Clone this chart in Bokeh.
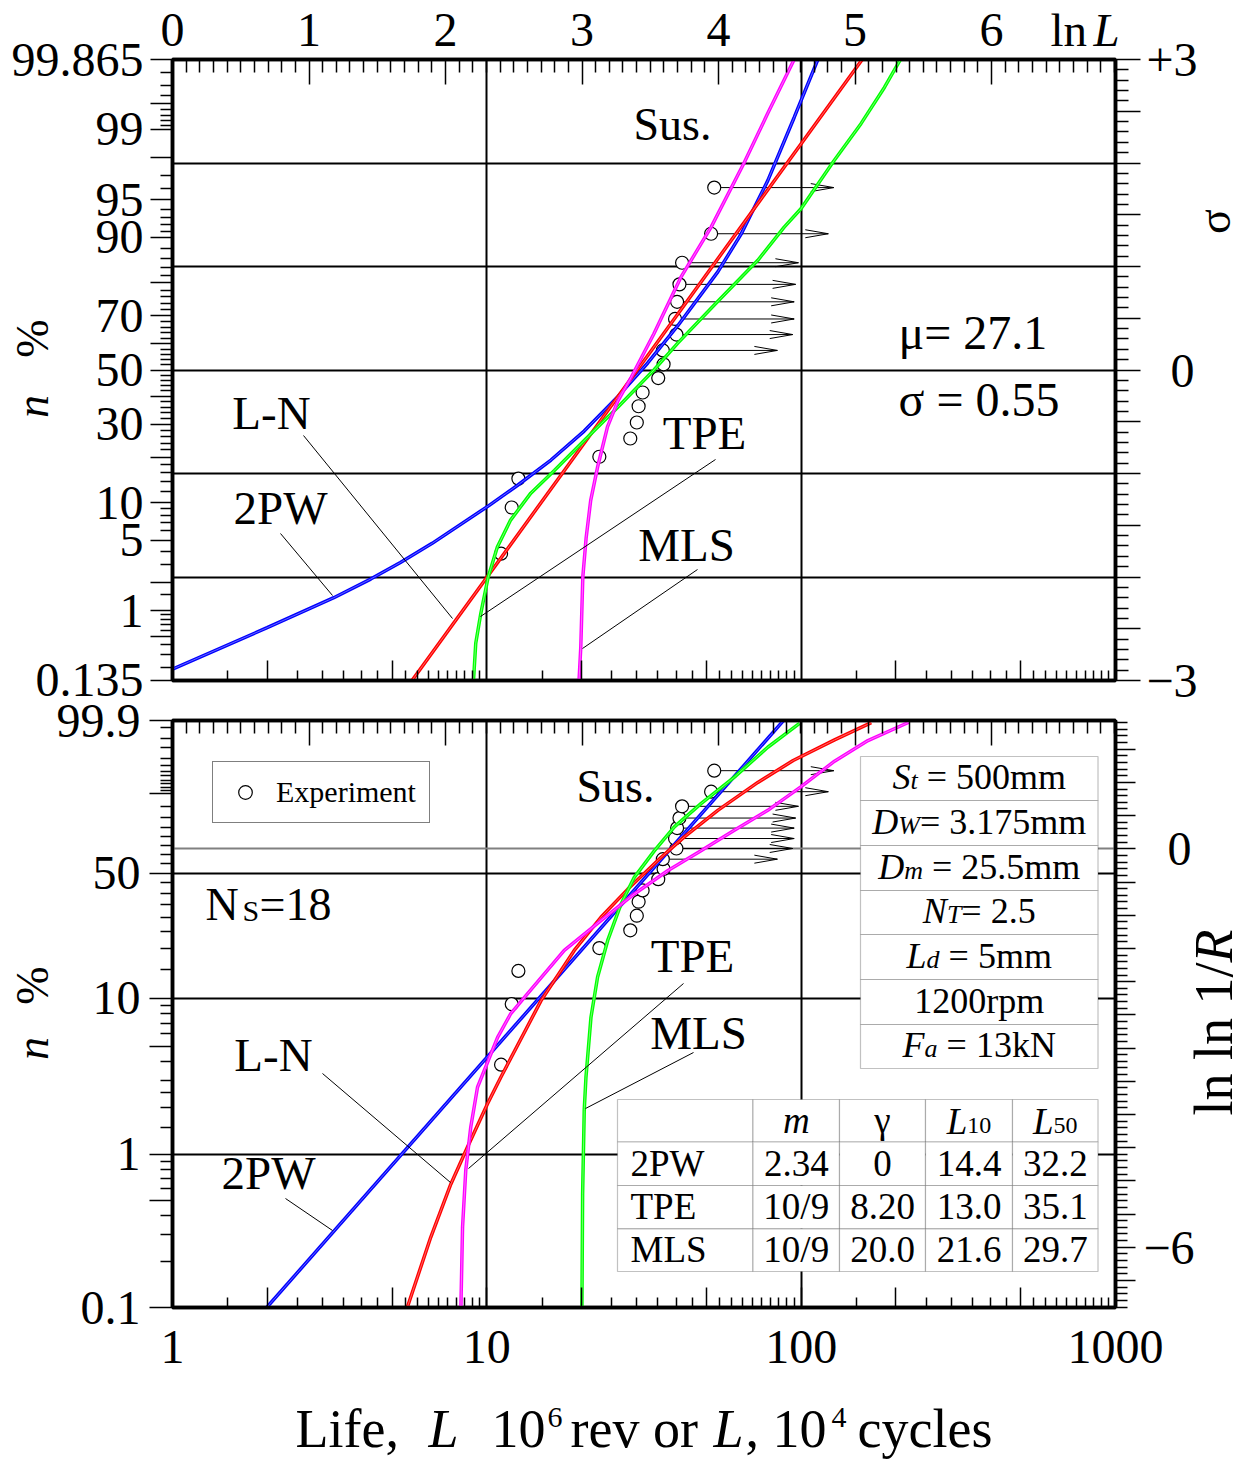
import math
from statistics import NormalDist
from bokeh.plotting import figure
from bokeh.models import (Range1d, LinearScale, LinearAxis, FixedTicker, Label, BoxAnnotation,
                          Grid, Legend, LegendItem, CustomJSTickFormatter, InlineStyleSheet)
from bokeh.embed import file_html
from bokeh.resources import INLINE

FONT = "Liberation Serif"

# ---------------- data ----------------
# experiment: failed specimens, life L (10^6 rev) and plotting position n (%)
fail_L = [11.1, 12.0, 12.6, 22.8, 28.6, 30.0, 30.4, 31.3, 35.1, 36.5]
fail_n = [3.8, 9.2, 14.7, 20.1, 25.4, 30.6, 36.3, 41.4, 46.9, 52.2]
# suspended specimens ("Sus.")
sus_L = [36.3, 40.1, 39.7, 40.3, 41.0, 41.8, 51.7, 52.9]
sus_n = [57.5, 63.4, 68.9, 74.5, 79.6, 85.0, 90.6, 96.1]
sus_arrow_L = [84, 94, 95, 95, 96, 98, 122, 127]

# upper panel: normal probability paper, ordinate in sigma units
up_2pw_L = [1.0, 2.0, 3.26, 4.27, 5.31, 6.7, 10.15, 12.5, 16.0, 20.4, 26.1, 32.5, 40.5, 54.3, 64.4, 78.3, 95.0, 113.0]
up_2pw_s = [-2.89, -2.49, -2.20, -2.02, -1.86, -1.675, -1.31, -1.116, -0.87, -0.59, -0.257, 0.068, 0.428, 0.948, 1.313, 1.83, 2.44, 3.0]
up_ln_L = [5.78, 30.1, 156.4]
up_ln_s = [-3.0, 0.0, 3.0]
up_tpe_L = [9.07, 9.22, 9.57, 10.1, 10.8, 11.9, 13.8, 16.4, 20.9, 26.1, 34.0, 40.5, 53.0, 72.8, 88.3, 100, 127, 155, 184, 207]
up_tpe_s = [-3.0, -2.64, -2.35, -2.00, -1.71, -1.45, -1.19, -0.97, -0.65, -0.36, 0.0, 0.26, 0.63, 1.06, 1.38, 1.56, 2.02, 2.38, 2.73, 3.0]
up_mls_L = [19.65, 19.9, 20.2, 20.7, 21.4, 22.5, 24.2, 26.1, 28.8, 34.0, 41.5, 51.7, 65.8, 78.3, 95.0]
up_mls_s = [-3.0, -2.68, -2.00, -1.62, -1.26, -0.94, -0.55, -0.30, -0.07, 0.35, 0.90, 1.38, 2.00, 2.48, 3.0]

# lower panel: Weibull probability paper, ordinate ln ln 1/R
lo_2pw_L = [2.0, 87.8]
lo_2pw_w = [-6.90, 1.93]
lo_ln_L = [5.59, 6.63, 7.68, 8.68, 10.05, 11.08, 14.86, 18.97, 23.07, 28.05, 35.8, 42.5, 54.3, 72.8, 94.3, 127.7, 167.1]
lo_ln_w = [-6.90, -5.85, -5.05, -4.49, -3.84, -3.44, -2.29, -1.53, -1.03, -0.61, -0.13, 0.18, 0.58, 1.00, 1.33, 1.64, 1.90]
lo_tpe_L = [8.27, 8.37, 8.57, 8.89, 9.34, 10.82, 11.92, 13.48, 17.63, 23.07, 29.45, 37.6, 48.0, 61.3, 78.3, 99.5, 127.7, 163.1, 221]
lo_tpe_w = [-6.90, -5.70, -4.84, -4.19, -3.59, -2.84, -2.48, -2.18, -1.53, -1.08, -0.68, -0.33, -0.03, 0.28, 0.58, 0.93, 1.32, 1.63, 1.91]
lo_mls_L = [20.07, 20.17, 20.41, 20.67, 21.44, 22.51, 24.24, 26.73, 29.45, 34.1, 39.5, 48.0, 61.3, 78.3, 98.8]
lo_mls_w = [-6.90, -5.20, -3.94, -3.44, -2.54, -1.93, -1.38, -0.83, -0.43, -0.03, 0.33, 0.68, 1.08, 1.53, 1.89]

# annotation texts
params = [("S", "t", "= 500mm"), ("D", "W", "= 3.175mm"), ("D", "m", "= 25.5mm"),
          ("N", "T", "= 2.5"), ("L", "d", "= 5mm"), ("", "", "1200rpm"), ("F", "a", "= 13kN")]
tab_rows = ["2PW", "TPE", "MLS"]
tab_m = ["2.34", "10/9", "10/9"]
tab_gamma = ["0", "8.20", "20.0"]
tab_L10 = ["14.4", "13.0", "21.6"]
tab_L50 = ["32.2", "35.1", "29.7"]

# ---------------- scales / helpers ----------------
nd = NormalDist()
def zsig(pct):
    return nd.inv_cdf(pct / 100.0)
def wlnln(pct):
    return math.log(-math.log(1.0 - pct / 100.0))

W_TOP, W_BOT = wlnln(99.9), wlnln(0.1)
DEC = 943 / 3.0
def xd(px):            # page pixel -> life value
    return 10 ** ((px - 172) / DEC)
def yt(py):            # page pixel -> sigma (upper panel)
    return 3 - (py - 59) * 6.0 / 621
def yb(py):            # page pixel -> ln ln 1/R (lower panel)
    return W_TOP - (py - 720) * (W_TOP - W_BOT) / 587
def ypage(py):         # overlay: page pixel
    return py
def xpage(px):
    return px

MID = 0.3375   # baseline -> box middle, in em
TICK_FS = 48

REG = {' ': .25, '.': .25, ',': .25, '=': .564, '/': .278, '-': .333, '%': .833, 'm': .778, 'r': .333,
       'p': .5, 'k': .5, 'N': .722, 'P': .556, 'W': .944, 'T': .611, 'E': .611, 'L': .611, 'S': .556,
       'M': .889, 'l': .278, 'n': .5, 'e': .444, 'v': .5, 'o': .5, 'c': .444, 'y': .5, 's': .389,
       'i': .278, 'f': .333, 'a': .444, 'd': .5, 't': .278, 'u': .5}
IT = {'S': .5, 't': .278, 'D': .722, 'W': .833, 'm': .722, 'N': .667, 'T': .556, 'L': .556, 'd': .5,
      'F': .611, 'a': .5, 'R': .611, 'n': .5}

def twidth(t, size, it=False):
    tb = IT if it else REG
    return sum(tb.get(c, REG.get(c, 0.5)) for c in t) * size

def lab(p, xc, yc, px, py, text, size, style="normal", align="left"):
    """text whose alphabetic baseline sits at page pixel py"""
    p.add_layout(Label(x=xc(px), y=yc(py - MID * size), text=text, text_font=FONT,
                       text_font_size=f"{size}px", text_font_style=style, text_align=align,
                       text_baseline="middle", text_color="black"))

def vlab(p, px, py, text, size, style="normal", align="center"):
    """rotated (bottom-to-top) text, baseline at page x px, on the overlay"""
    p.add_layout(Label(x=px - MID * size, y=py, text=text, text_font=FONT, text_font_size=f"{size}px",
                       text_font_style=style, text_align=align, text_baseline="middle",
                       angle=math.pi / 2, text_color="black"))

def rich(p, yc, pieces, px, py, align="left"):
    total = sum(twidth(t, s, it) for t, s, it in pieces)
    x = px - total / 2.0 if align == "center" else px
    for t, s, it in pieces:
        core = t.strip()
        lead = len(t) - len(t.lstrip())
        trail = (len(t) - len(t.rstrip())) if core else 0
        x += twidth(" " * lead, s, it)
        if core:
            lab(p, xd, yc, x, py, core, s, "italic" if it else "normal")
        x += twidth(core, s, it) + twidth(" " * trail, s, it)

def fmt(ticks, labels):
    return CustomJSTickFormatter(args=dict(t=list(ticks), l=list(labels)), code="""
        for (let i = 0; i < t.length; i++) {
            if (Math.abs(tick - t[i]) < 1e-6 * (1 + Math.abs(t[i]))) return l[i];
        }
        return '';""")

def style_axis(ax, tin=0, tout=0, min_in=0, min_out=0, standoff=0, fs=TICK_FS):
    ax.axis_line_color = "black"
    ax.axis_line_width = 3.5
    ax.major_tick_line_color = "black"
    ax.major_tick_line_width = 1.5
    ax.minor_tick_line_color = "black"
    ax.minor_tick_line_width = 1.5
    ax.major_tick_in = tin
    ax.major_tick_out = tout
    ax.minor_tick_in = min_in
    ax.minor_tick_out = min_out
    ax.major_label_standoff = standoff
    ax.major_label_text_font = FONT
    ax.major_label_text_font_size = f"{fs}px"
    ax.major_label_text_color = "black"

def place(fig, top):
    css = ":host { position: absolute !important; left: 0px !important; top: %dpx !important; }" % top
    fig.stylesheets = [InlineStyleSheet(css=css)]
    fig.styles = {"position": "absolute", "left": "0px", "top": f"{top}px"}

def curve(p, xs, ys, color, light):
    p.line(xs, ys, line_color=color, line_width=3.5)
    p.line(xs, ys, line_color=light, line_width=0.8, line_alpha=0.8)

# tick layouts (styling)
x_minor = [m * 10 ** k for k in range(3) for m in (1.5, 2.5, 3, 3.5, 4, 4.5, 5.5, 6, 6.5, 7, 7.5, 8, 8.5, 9, 9.5)]
ln_major = [0, 1, 2, 3, 4, 5, 6]
ln_minor = [k / 10 for k in range(1, 70) if k % 10]

up_major = [0.135, 0.5, 1, 2, 5, 10, 20, 30, 40, 50, 60, 70, 80, 90, 95, 98, 99, 99.5, 99.865]
up_lab = [0.135, 1, 5, 10, 30, 50, 70, 90, 95, 99, 99.865]
up_lab_txt = ["0.135", "1", "5", "10", "30", "50", "70", "90", "95", "99", "99.865"]
up_minor = [0.2, 0.3, 0.4, 0.6, 0.7, 0.8, 0.9, 1.5, 3, 4, 6, 7, 8, 9, 12, 14, 16, 18, 22, 24, 26, 28,
            32, 34, 36, 38, 42, 44, 46, 48, 52, 54, 56, 58, 62, 64, 66, 68, 72, 74, 76, 78, 82, 84, 86,
            88, 91, 92, 93, 94, 96, 97, 99.1, 99.2, 99.3, 99.4, 99.6, 99.7, 99.8]

lo_major = [0.1, 0.5, 1, 5, 10, 50, 90, 99.9]
lo_lab = [0.1, 1, 10, 50, 99.9]
lo_lab_txt = ["0.1", "1", "10", "50", "99.9"]
lo_minor = [0.2, 0.3, 0.4, 0.6, 0.7, 0.8, 0.9, 1.5, 2, 2.5, 3, 4, 6, 7, 8, 9, 15, 20, 25, 30, 35, 40,
            45, 55, 60, 65, 70, 75, 80, 85, 91, 92, 93, 94, 95, 96, 97, 98, 99, 99.5, 99.8]

COL = dict(blue=("#0000ff", "#a0a0ff"), red=("#ff0000", "#ffa0a0"),
           green=("#00ff00", "#b0ffb0"), magenta=("#ff00ff", "#ffb0ff"))

def make_fig(yrange, fh, top, bottom):
    p = figure(x_axis_type="log", x_range=Range1d(1, 1000), y_range=yrange,
               frame_width=943, frame_height=fh,
               min_border_left=172, min_border_right=126, min_border_top=top, min_border_bottom=bottom,
               toolbar_location=None, output_backend="svg",
               background_fill_color="white", border_fill_color="white")
    p.outline_line_color = "black"
    p.outline_line_width = 3.5
    p.xgrid.ticker = FixedTicker(ticks=[10, 100])
    p.xgrid.grid_line_color = "black"
    p.xgrid.grid_line_width = 2
    p.ygrid.grid_line_color = "black"
    p.ygrid.grid_line_width = 2
    p.extra_x_ranges = {"ln": Range1d(0, math.log(1000))}
    p.extra_x_scales = {"ln": LinearScale()}
    return p

def draw_arrows(p, yvals, ypx):
    dy = 4 * ypx
    back = 10 ** (23 / DEC)
    start = 10 ** (6.5 / DEC)
    p.segment(x0=[v * start for v in sus_L], y0=yvals, x1=sus_arrow_L, y1=yvals, line_color="black", line_width=1)
    p.segment(x0=sus_arrow_L, y0=yvals, x1=[v / back for v in sus_arrow_L], y1=[y + dy for y in yvals],
              line_color="black", line_width=1)
    p.segment(x0=sus_arrow_L, y0=yvals, x1=[v / back for v in sus_arrow_L], y1=[y - dy for y in yvals],
              line_color="black", line_width=1)

# ================= upper panel =================
TOP1 = 72
p1 = make_fig(Range1d(-3, 3), 621, TOP1, 26)
place(p1, 59 - TOP1)
p1.ygrid.ticker = FixedTicker(ticks=[-2, -1, 0, 1, 2])

xb = p1.xaxis[0]
xb.ticker = FixedTicker(ticks=[2, 5, 20, 50, 200, 500], minor_ticks=x_minor)
xb.formatter = fmt([], [])
style_axis(xb, tin=20, min_in=10, fs=1)

yl = p1.yaxis[0]
yl.ticker = FixedTicker(ticks=[zsig(v) for v in up_major], minor_ticks=[zsig(v) for v in up_minor])
yl.formatter = fmt([zsig(v) for v in up_lab], up_lab_txt)
style_axis(yl, tout=22, min_out=12, standoff=7)

at = LinearAxis(x_range_name="ln", ticker=FixedTicker(ticks=ln_major, minor_ticks=ln_minor),
                formatter=fmt(ln_major, [str(v) for v in ln_major]))
style_axis(at, tin=25, min_in=13, standoff=14)
p1.add_layout(at, "above")

s_major = [k / 2 for k in range(-6, 7)]
s_minor = [k / 10 for k in range(-30, 31) if k % 5]
ar = LinearAxis(ticker=FixedTicker(ticks=s_major, minor_ticks=s_minor),
                formatter=fmt([3, 0, -3], ["+3", "\u00a0\u00a00", "\u22123"]))
style_axis(ar, tout=25, min_out=13, standoff=6)
p1.add_layout(ar, "right")

draw_arrows(p1, [zsig(v) for v in sus_n], 6.0 / 621)
p1.scatter(fail_L + sus_L, [zsig(v) for v in fail_n + sus_n], marker="circle", size=13,
           fill_color="white", line_color="black", line_width=1.2)

curve(p1, up_2pw_L, up_2pw_s, *COL["blue"])
curve(p1, up_ln_L, up_ln_s, *COL["red"])
curve(p1, up_tpe_L, up_tpe_s, *COL["green"])
curve(p1, up_mls_L, up_mls_s, *COL["magenta"])

# leaders (label end -> curve), page pixels
up_leaders = [((303, 435), (452, 618)), ((280, 533), (332, 595)), ((715, 459), (480, 616)), ((697, 569), (582, 648))]
p1.segment(x0=[xd(a[0]) for a, b in up_leaders], y0=[yt(a[1]) for a, b in up_leaders],
           x1=[xd(b[0]) for a, b in up_leaders], y1=[yt(b[1]) for a, b in up_leaders],
           line_color="black", line_width=1)

lab(p1, xd, yt, 672, 140, "Sus.", 46, align="center")
lab(p1, xd, yt, 271, 428, "L-N", 47, align="center")
lab(p1, xd, yt, 280, 523, "2PW", 47, align="center")
lab(p1, xd, yt, 704, 448, "TPE", 47, align="center")
lab(p1, xd, yt, 686, 560, "MLS", 47, align="center")
lab(p1, xd, yt, 898, 348, "\u03bc= 27.1", 48)
lab(p1, xd, yt, 898, 415, "\u03c3 = 0.55", 48)

# ================= lower panel =================
TOP2 = 26
p2 = make_fig(Range1d(W_BOT, W_TOP), 587, TOP2, 152)
place(p2, 720 - TOP2)
p2.border_fill_alpha = 0
p2.ygrid.ticker = FixedTicker(ticks=[wlnln(50), wlnln(10), wlnln(1)])
g0 = Grid(dimension=1, ticker=FixedTicker(ticks=[0]), grid_line_color="#808080", grid_line_width=2)
p2.add_layout(g0)

xb2 = p2.xaxis[0]
xb2.ticker = FixedTicker(ticks=[1, 2, 5, 10, 20, 50, 100, 200, 500, 1000], minor_ticks=x_minor)
xb2.formatter = fmt([1, 10, 100, 1000], ["1", "10", "100", "1000"])
style_axis(xb2, tin=20, min_in=10, standoff=23)

yl2 = p2.yaxis[0]
yl2.ticker = FixedTicker(ticks=[wlnln(v) for v in lo_major], minor_ticks=[wlnln(v) for v in lo_minor])
yl2.formatter = fmt([wlnln(v) for v in lo_lab], lo_lab_txt)
style_axis(yl2, tout=23, min_out=12, standoff=9)

at2 = LinearAxis(x_range_name="ln", ticker=FixedTicker(ticks=ln_major, minor_ticks=ln_minor), formatter=fmt([], []))
style_axis(at2, tin=25, min_in=13, fs=1)
p2.add_layout(at2, "above")

w_major = [k / 2 for k in range(-13, 4)]
w_minor = [k / 10 for k in range(-69, 20) if k % 5]
ar2 = LinearAxis(ticker=FixedTicker(ticks=w_major, minor_ticks=w_minor),
                 formatter=fmt([0, -6], ["\u00a0\u00a00", "\u22126"]))
style_axis(ar2, tout=20, min_out=12, standoff=8)
p2.add_layout(ar2, "right")

wpx = (W_TOP - W_BOT) / 587
draw_arrows(p2, [wlnln(v) for v in sus_n], wpx)
c2 = p2.scatter(fail_L + sus_L, [wlnln(v) for v in fail_n + sus_n], marker="circle", size=13,
                fill_color="white", line_color="black", line_width=1.2)

curve(p2, lo_2pw_L, lo_2pw_w, *COL["blue"])
curve(p2, lo_ln_L, lo_ln_w, *COL["red"])
curve(p2, lo_mls_L, lo_mls_w, *COL["green"])
curve(p2, lo_tpe_L, lo_tpe_w, *COL["magenta"])

lo_leaders = [((322, 1073), (450, 1182)), ((285, 1198), (332, 1230)), ((683, 983), (468, 1168)), ((693, 1052), (585, 1108))]
p2.segment(x0=[xd(a[0]) for a, b in lo_leaders], y0=[yb(a[1]) for a, b in lo_leaders],
           x1=[xd(b[0]) for a, b in lo_leaders], y1=[yb(b[1]) for a, b in lo_leaders],
           line_color="black", line_width=1)

lab(p2, xd, yb, 615, 802, "Sus.", 46, align="center")
lab(p2, xd, yb, 273, 1070, "L-N", 47, align="center")
lab(p2, xd, yb, 268, 1188, "2PW", 47, align="center")
lab(p2, xd, yb, 692, 971, "TPE", 47, align="center")
lab(p2, xd, yb, 698, 1048, "MLS", 47, align="center")
lab(p2, xd, yb, 205, 920, "N", 46)
lab(p2, xd, yb, 242, 920, "S", 30)
lab(p2, xd, yb, 259, 920, "=18", 46)

# legend
leg = Legend(items=[LegendItem(label="Experiment", renderers=[c2])], location=(40, 484),
             border_line_color="black", border_line_width=1, background_fill_color="white",
             background_fill_alpha=1, label_text_font=FONT, label_text_font_size="30px",
             label_text_color="black", padding=13, glyph_width=38, glyph_height=34,
             label_height=34, label_standoff=12, spacing=0, margin=0)
p2.add_layout(leg)

# parameter table
prow = [756, 800, 845, 890, 934, 979, 1024, 1068]
for i, (big, small, rest) in enumerate(params):
    p2.add_layout(BoxAnnotation(left=xd(860), right=xd(1097.5), top=yb(prow[i]), bottom=yb(prow[i + 1]),
                                fill_color="white", fill_alpha=1, line_color="#333333", line_width=1.2))
    pieces = []
    if big:
        pieces += [(big, 36, True), (small, 26, True), (" " if small in ("t", "m", "d", "a") else "", 36, False)]
    pieces.append((rest, 36, False))
    rich(p2, yb, pieces, 978.75, prow[i + 1] - 11, align="center")

# results table
tcol = [617, 752.5, 839, 925, 1012, 1097.5]
trow = [1099, 1141.5, 1185, 1228.3, 1271]
for r in range(4):
    for c in range(5):
        p2.add_layout(BoxAnnotation(left=xd(tcol[c]), right=xd(tcol[c + 1]), top=yb(trow[r]), bottom=yb(trow[r + 1]),
                                    fill_color="white", fill_alpha=1, line_color="#333333", line_width=1.2))
def ccx(c):
    return (tcol[c] + tcol[c + 1]) / 2
lab(p2, xd, yb, ccx(1), 1132, "m", 37, style="italic", align="center")
lab(p2, xd, yb, ccx(2), 1132, "\u03b3", 37, align="center")
rich(p2, yb, [("L", 37, True), ("10", 24, False)], ccx(3), 1133, align="center")
rich(p2, yb, [("L", 37, True), ("50", 24, False)], ccx(4), 1133, align="center")
for r in range(3):
    base = trow[r + 2] - 10
    lab(p2, xd, yb, 630, base, tab_rows[r], 37)
    lab(p2, xd, yb, ccx(1), base, tab_m[r], 37, align="center")
    lab(p2, xd, yb, ccx(2), base, tab_gamma[r], 37, align="center")
    lab(p2, xd, yb, ccx(3), base, tab_L10[r], 37, align="center")
    lab(p2, xd, yb, ccx(4), base, tab_L50[r], 37, align="center")

# ================= overlay for the axis titles outside the frames =================
ov = figure(width=1244, height=1459, x_range=Range1d(0, 1244), y_range=Range1d(1459, 0),
            min_border=0, toolbar_location=None, output_backend="svg",
            x_axis_location=None, y_axis_location=None,
            background_fill_color=None, border_fill_color=None, outline_line_color=None)
ov.grid.visible = False
place(ov, 0)

lab(ov, xpage, ypage, 1050, 45, "ln", 47)
lab(ov, xpage, ypage, 1093, 45, "L", 47, style="italic")
vlab(ov, 48, 406, "n", 46, style="italic")
vlab(ov, 48, 338, "%", 46)
vlab(ov, 1230, 221, "\u03c3", 46)
vlab(ov, 48, 1048, "n", 46, style="italic")
vlab(ov, 48, 985, "%", 46)
vlab(ov, 1232, 1115, "ln ln 1/", 54, align="left")
vlab(ov, 1232, 1115 - twidth("ln ln 1/", 54), "R", 54, style="italic", align="left")
for t, x, sz, it, base in [("Life,", 295, 54, False, 1447), ("L", 428, 54, True, 1447), ("10", 491, 54, False, 1447),
                           ("6", 547, 30, False, 1427), ("rev or", 570, 54, False, 1447), ("L", 713, 54, True, 1447),
                           (",", 745, 54, False, 1447), ("10", 772, 54, False, 1447), ("4", 831, 30, False, 1427),
                           ("cycles", 857, 54, False, 1447)]:
    lab(ov, xpage, ypage, x, base, t, sz, style="italic" if it else "normal")

open("out.html", "w").write(file_html([p1, p2, ov], INLINE))
